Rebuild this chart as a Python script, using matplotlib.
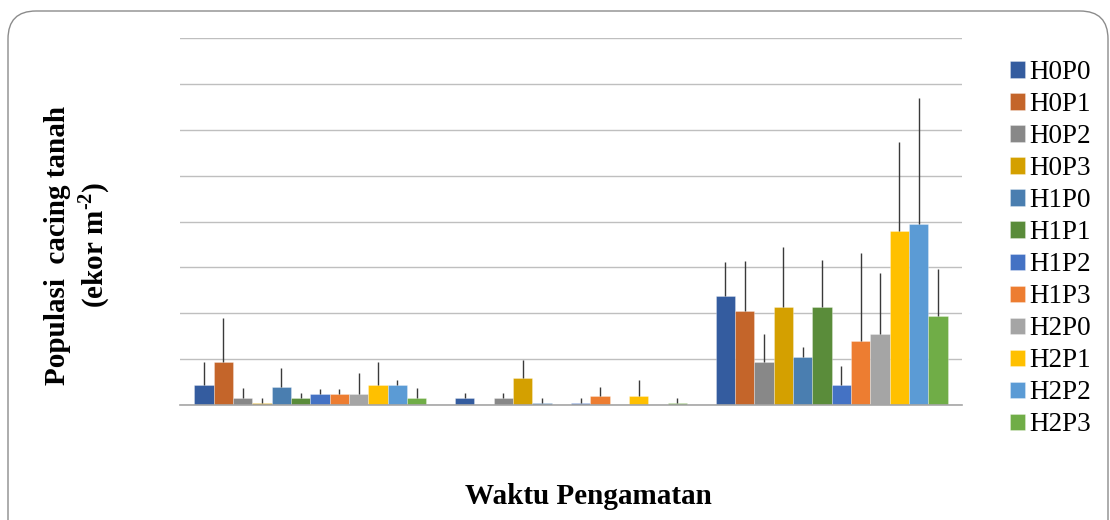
import numpy as np
import matplotlib
matplotlib.use("Agg")
import matplotlib.pyplot as plt
from matplotlib.patches import FancyBboxPatch

plt.rcParams['font.family'] = ['Liberation Serif', 'DejaVu Serif']
plt.rcParams['mathtext.fontset'] = 'custom'
plt.rcParams['mathtext.rm'] = 'Liberation Serif:bold'
plt.rcParams['mathtext.bf'] = 'Liberation Serif:bold'

# three observation times, no tick labels in the original
times = ['', '', '']
treatments = ['H0P0', 'H0P1', 'H0P2', 'H0P3', 'H1P0', 'H1P1',
              'H1P2', 'H1P3', 'H2P0', 'H2P1', 'H2P2', 'H2P3']
colors = ['#345C9F', '#C4652A', '#888888', '#D4A000', '#4A7EB0', '#5A8C3A',
          '#4472C4', '#ED7D31', '#A5A5A5', '#FFC000', '#5B9BD5', '#70AD47']

# means per treatment, one value per observation time (units = gridlines)
means = {
    'H0P0': [0.44, 0.145, 2.38],
    'H0P1': [0.94, 0.0, 2.04],
    'H0P2': [0.145, 0.145, 0.93],
    'H0P3': [0.05, 0.59, 2.14],
    'H1P0': [0.39, 0.05, 1.04],
    'H1P1': [0.145, 0.0, 2.14],
    'H1P2': [0.24, 0.05, 0.436],
    'H1P3': [0.24, 0.19, 1.39],
    'H2P0': [0.24, 0.0, 1.54],
    'H2P1': [0.44, 0.19, 3.80],
    'H2P2': [0.44, 0.0, 3.94],
    'H2P3': [0.145, 0.05, 1.95],
}
# upper error amounts
errors = {
    'H0P0': [0.50, 0.12, 0.73],
    'H0P1': [0.95, 0.0, 1.10],
    'H0P2': [0.22, 0.12, 0.62],
    'H0P3': [0.11, 0.40, 1.31],
    'H1P0': [0.41, 0.11, 0.23],
    'H1P1': [0.12, 0.0, 1.02],
    'H1P2': [0.115, 0.11, 0.42],
    'H1P3': [0.115, 0.20, 1.93],
    'H2P0': [0.46, 0.0, 1.34],
    'H2P1': [0.50, 0.355, 1.93],
    'H2P2': [0.11, 0.0, 2.76],
    'H2P3': [0.22, 0.11, 1.02],
}

fig = plt.figure(figsize=(11.1, 5.2), dpi=100)

# rounded chart-area border
frame = FancyBboxPatch((0.08, -0.4), 11.0, 5.49,
                       boxstyle="round,pad=0,rounding_size=0.28",
                       transform=fig.dpi_scale_trans, fill=False,
                       edgecolor='#8C8C8C', linewidth=1.0)
fig.patches.append(frame)

ax = fig.add_axes([180 / 1110, 1 - 405 / 520, 782 / 1110, 367 / 520])

n = len(treatments)
width = 1.0 / (n + 1.5)
x = np.arange(len(times))
for i, t in enumerate(treatments):
    pos = x - 0.5 + width * (0.75 + i + 0.5)
    vals = np.array(means[t])
    err = np.array(errors[t])
    ax.bar(pos, vals, width, color=colors[i], label=t,
           edgecolor=(1, 1, 1, 0.5), linewidth=0.4, zorder=2)
    ax.errorbar(pos, vals, yerr=[np.zeros_like(err), err], fmt='none',
                ecolor='#3A3A3A', elinewidth=1.0, capsize=0, zorder=3)

ax.set_xlim(-0.5, len(times) - 0.5)
ax.set_ylim(0, 8)
ax.set_yticks(np.arange(0, 9, 1))
ax.set_xticks(x)
ax.set_xticklabels(times)
ax.tick_params(length=0, labelleft=False, labelbottom=False)
ax.grid(axis='y', color='#BFBFBF', linewidth=1.0, zorder=0)
ax.set_axisbelow(True)
for s in ['top', 'right', 'left']:
    ax.spines[s].set_visible(False)
ax.spines['bottom'].set_color('#A6A6A6')
ax.spines['bottom'].set_linewidth(1.2)

fig.text(78 / 1110, 1 - 245 / 520,
         'Populasi  cacing tanah\n(ekor m$^{\\text{-2}}$)',
         rotation=90, ha='center', va='center', multialignment='center',
         fontsize=21, fontweight='bold')
fig.text(588 / 1110, 1 - 497 / 520, 'Waktu Pengamatan',
         ha='center', va='center', fontsize=21, fontweight='bold')

ax.legend(loc='upper left', bbox_to_anchor=(1010 / 1110, 1 - 60 / 520),
          bbox_transform=fig.transFigure, frameon=False, fontsize=19.5,
          handlelength=0.55, handleheight=0.55, handletextpad=0.18,
          labelspacing=0.26, borderaxespad=0, borderpad=0)

fig.savefig('out.png', dpi=100)
